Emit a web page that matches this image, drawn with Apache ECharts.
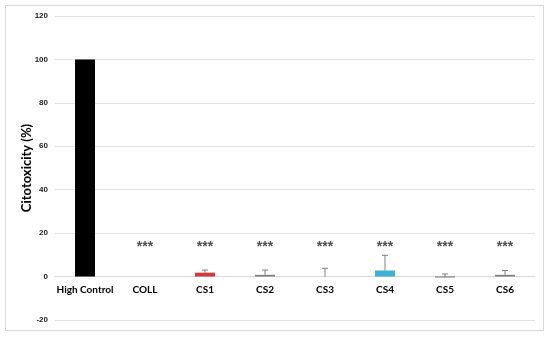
<!DOCTYPE html>
<html>
<head>
<meta charset="utf-8">
<script src="https://cdn.jsdelivr.net/npm/echarts@6/dist/echarts.min.js"></script>
<style>html,body{margin:0;padding:0;background:#fff;}#c{width:550px;height:337px;}</style>
</head>
<body>
<div id="c"></div>
<script>
var categories = ['High Control', 'COLL', 'CS1', 'CS2', 'CS3', 'CS4', 'CS5', 'CS6'];
var values = [100, 0, 1.8, 0.8, 0, 2.8, -0.4, 0.8];
var errorTops = [null, null, 3.0, 3.0, 3.8, 9.8, 1.2, 2.8];
var colors = ['#000000', '#808080', '#d33b3b', '#7f7f7f', '#7f7f7f', '#3cb2d6', '#5f5f5f', '#808080'];
var starLevel = [null, 13.5, 13.5, 13.5, 13.5, 13.5, 13.5, 13.5];
var yTicks = { min: -20, max: 120, interval: 20 };

var chart = echarts.init(document.getElementById('c'));
var errData = [];
for (var i = 0; i < categories.length; i++) {
  if (errorTops[i] !== null) errData.push([i, values[i], errorTops[i]]);
}
var gridTop = 16, gridBottom = 17, H = 337;
var pxPerUnit = (H - gridTop - gridBottom) / (yTicks.max - yTicks.min);
chart.setOption({
  animation: false,
  graphic: [{
    type: 'rect', shape: { x: 5.5, y: 5.5, width: 538, height: 325 },
    style: { fill: 'none', stroke: '#d9d9d9', lineWidth: 1 }, silent: true
  }],
  grid: { left: 55, right: 15, top: gridTop, bottom: gridBottom },
  xAxis: {
    type: 'category', data: categories,
    offset: -(0 - yTicks.min) * pxPerUnit,
    axisLine: { onZero: false, lineStyle: { color: '#d9d9d9' } },
    axisTick: { show: false },
    axisLabel: { fontFamily: 'Lato', fontWeight: 'bold', fontSize: 10, color: '#000', margin: 8, interval: 0 }
  },
  yAxis: {
    type: 'value', min: yTicks.min, max: yTicks.max, interval: yTicks.interval,
    name: 'Citotoxicity (%)', nameLocation: 'middle', nameGap: 22, nameMoveOverlap: false,
    nameTextStyle: { fontFamily: 'Lato', fontWeight: 'bold', fontSize: 13, color: '#000' },
    axisLine: { show: false }, axisTick: { show: false },
    axisLabel: { fontFamily: 'Liberation Sans', fontWeight: 'bold', fontSize: 8, color: '#222', margin: 7 },
    splitLine: { lineStyle: { color: '#e3e3e3' } }
  },
  series: [{
    type: 'bar', barWidth: 20,
    data: values.map(function (v, i) { return { value: v, itemStyle: { color: colors[i] } }; })
  }, {
    type: 'custom',
    data: errData,
    renderItem: function (params, api) {
      var x = api.value(0);
      var p0 = api.coord([x, api.value(1)]);
      var p1 = api.coord([x, api.value(2)]);
      var st = { stroke: '#808080', lineWidth: 1 };
      return { type: 'group', children: [
        { type: 'line', shape: { x1: p0[0], y1: p0[1], x2: p1[0], y2: p1[1] }, style: st },
        { type: 'line', shape: { x1: p1[0] - 3, y1: p1[1], x2: p1[0] + 3, y2: p1[1] }, style: st }
      ] };
    },
    z: 3
  }, {
    type: 'scatter', symbolSize: 0,
    data: starLevel,
    label: { show: true, position: 'inside', formatter: '***', fontFamily: 'Liberation Sans', fontWeight: 'bold', fontSize: 14, color: '#222' }
  }]
});
</script>
</body>
</html>
